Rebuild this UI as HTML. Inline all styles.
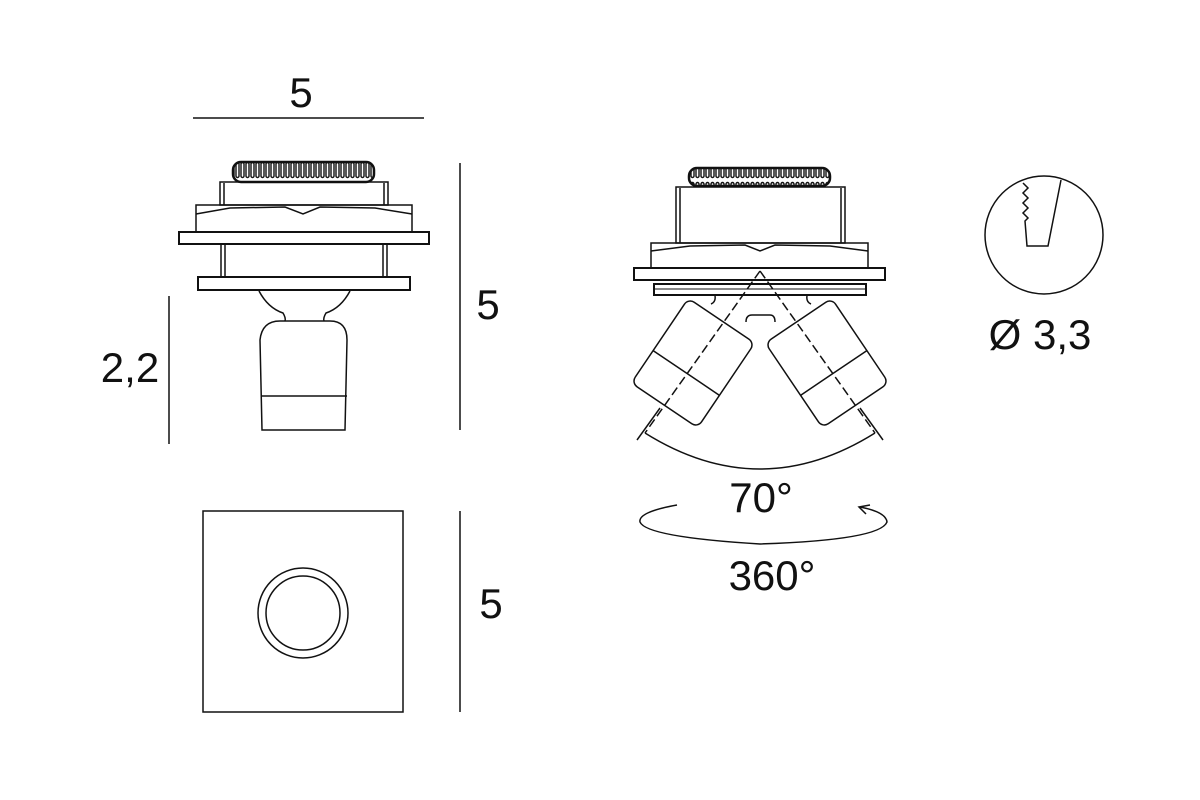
<!DOCTYPE html>
<html><head><style>html,body{margin:0;padding:0;background:#fff}svg{display:block}</style></head>
<body>
<svg width="1200" height="800" viewBox="0 0 1200 800" xmlns="http://www.w3.org/2000/svg" font-family="'Liberation Sans', sans-serif" fill="none" stroke="#111" stroke-width="1.5">
<defs>
<pattern id="kn" x="0" y="0" width="5" height="20" patternUnits="userSpaceOnUse">
<rect x="0" y="0" width="5" height="20" fill="#fff" stroke="none"/>
<rect x="1" y="2.5" width="3" height="15" rx="1.5" fill="none" stroke="#111" stroke-width="1.4"/>
</pattern>
</defs>
<line x1="193" y1="118" x2="424" y2="118"/>
<line x1="460" y1="163" x2="460" y2="430"/>
<line x1="169" y1="296" x2="169" y2="444"/>
<line x1="460" y1="511" x2="460" y2="712"/>
<g fill="#111" stroke="none" font-size="42">
<text x="301" y="107" text-anchor="middle">5</text>
<text x="488" y="319" text-anchor="middle">5</text>
<text x="130" y="382" text-anchor="middle">2,2</text>
<text x="491" y="618" text-anchor="middle">5</text>
<text x="761" y="512" text-anchor="middle">70°</text>
<text x="772" y="590" text-anchor="middle">360°</text>
<text x="1040" y="349" text-anchor="middle">Ø 3,3</text>
</g>

<rect x="233" y="162" width="141" height="20" rx="8" fill="url(#kn)" stroke-width="2.5"/>
<rect x="220" y="182" width="168" height="23"/>
<line x1="224" y1="183" x2="224" y2="205"/><line x1="384" y1="183" x2="384" y2="205"/>
<rect x="196" y="205" width="216" height="27"/>
<path d="M196 214 L230 208 L285 207 L303 214 L320 207 L375 208 L412 214"/>
<rect x="179" y="232" width="250" height="12" stroke-width="2"/>
<line x1="221" y1="244" x2="221" y2="277"/><line x1="225" y1="244" x2="225" y2="277"/>
<line x1="383" y1="244" x2="383" y2="277"/><line x1="387" y1="244" x2="387" y2="277"/>
<rect x="198" y="277" width="212" height="13" stroke-width="2"/>
<path d="M259 291 Q268 308 283 313 Q286 318 285 321 M350 291 Q341 308 326 313 Q323 318 324 321"/>
<path d="M262 430 L260 340 Q262 321 280 321 L330 321 Q347 321 347 340 L345 430 Z"/>
<line x1="261" y1="396" x2="347" y2="396"/>

<rect x="203" y="511" width="200" height="201"/>
<circle cx="303" cy="613" r="45"/>
<circle cx="303" cy="613" r="37"/>

<rect x="689" y="168" width="141" height="18" rx="8" fill="url(#kn)" stroke-width="2.5"/>
<rect x="676" y="187" width="169" height="56"/>
<line x1="680" y1="188" x2="680" y2="243"/><line x1="841" y1="188" x2="841" y2="243"/>
<rect x="651" y="243" width="217" height="25"/>
<path d="M651 251 L690 246 L745 245 L760 251 L775 245 L830 246 L868 251"/>
<rect x="634" y="268" width="251" height="12" stroke-width="2"/>
<rect x="654" y="284" width="212" height="11" stroke-width="2"/>
<line x1="654" y1="289" x2="866" y2="289" stroke-width="1"/>
<path d="M746 322 Q746 315 752 315 L770 315 Q775 315 775 322"/>
<path d="M715 296 Q716 302 711 304 M807 296 Q806 302 811 304"/>
<g transform="translate(693,363) rotate(34)">
<rect x="-40" y="-51" width="80" height="102" rx="7"/>
<line x1="-40" y1="12" x2="40" y2="12"/>
</g>
<g transform="translate(827,363) rotate(-34)">
<rect x="-40" y="-51" width="80" height="102" rx="7"/>
<line x1="-40" y1="12" x2="40" y2="12"/>
</g>
<line x1="760" y1="271" x2="645" y2="433" stroke-dasharray="9,4"/>
<line x1="760" y1="271" x2="875" y2="433" stroke-dasharray="9,4"/>
<line x1="660" y1="408" x2="637" y2="440"/>
<line x1="860" y1="408" x2="883" y2="440"/>
<path d="M645 433 Q760 505 875 433"/>
<path d="M677 505 Q638 512 640 522 Q646 537 760 544 Q880 540 887 522 Q886 512 860 507"/>
<path d="M870 505 L859 507 L866 514"/>

<circle cx="1044" cy="235" r="59"/>
<path d="M1023 183 L1028 188 L1023 193 L1028 198 L1023 203 L1028 208 L1023 213 L1028 218 L1025 221 L1027 246 L1048 246 L1061 180"/>
</svg>
</body></html>
